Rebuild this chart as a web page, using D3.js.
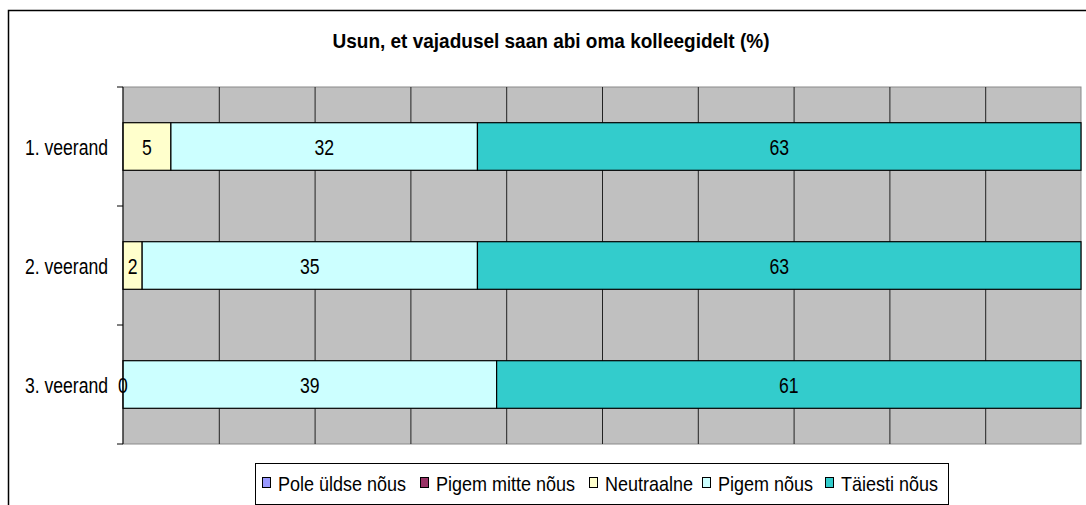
<!DOCTYPE html>
<html>
<head>
<meta charset="utf-8">
<script src="https://cdn.jsdelivr.net/npm/d3@7"></script>
<style>
  body { margin: 0; background: #fff; }
  text { font-family: "Liberation Sans", Arial, sans-serif; fill: #000; }
</style>
</head>
<body>
<div id="chart"></div>
<script>
var categories = ["1. veerand", "2. veerand", "3. veerand"];
var seriesNames = ["Pole üldse nõus", "Pigem mitte nõus", "Neutraalne", "Pigem nõus", "Täiesti nõus"];
var seriesColors = ["#9999FF", "#993366", "#FFFFCC", "#CCFFFF", "#33CCCC"];
var poleUldse = [0, 0, 0];
var pigemMitte = [0, 0, 0];
var neutraalne = [5, 2, 0];
var pigemNous = [32, 35, 39];
var taiestiNous = [63, 63, 61];
// which series get a value label (zero series have no labels in the original)
var labelled = [false, false, true, true, true];
var xTicks = [0, 10, 20, 30, 40, 50, 60, 70, 80, 90, 100];

var W = 1086, H = 505;
var plot = { left: 123, top: 87, right: 1081, bottom: 444 };

// the original text is horizontally compressed, so squeeze glyphs
function squish(sel, k) {
  sel.each(function () {
    var t = d3.select(this);
    var tx = +t.attr("x") || 0, ty = +t.attr("y") || 0;
    t.attr("x", 0).attr("y", 0)
      .attr("transform", "translate(" + tx + "," + ty + ") scale(" + k + ",1)");
  });
}

var svg = d3.select("#chart").append("svg").attr("width", W).attr("height", H);

svg.append("rect").attr("width", W).attr("height", H).attr("fill", "white");
// outer chart border (runs off right / bottom)
svg.append("rect").attr("x", 8.5).attr("y", 10.5).attr("width", W).attr("height", H)
  .attr("fill", "none").attr("stroke", "#000").attr("stroke-width", 1.5);

svg.append("text")
  .attr("x", 551).attr("y", 48)
  .attr("text-anchor", "middle")
  .attr("textLength", 437).attr("lengthAdjust", "spacingAndGlyphs")
  .style("font-size", "21px").style("font-weight", "bold")
  .text("Usun, et vajadusel saan abi oma kolleegidelt (%)");

var x = d3.scaleLinear().domain([0, 100]).range([plot.left, plot.right]);
var y = d3.scaleBand().domain(categories).range([plot.top, plot.bottom])
  .paddingInner(0.6).paddingOuter(0.3);

// plot area
svg.append("rect")
  .attr("x", plot.left).attr("y", plot.top)
  .attr("width", plot.right - plot.left).attr("height", plot.bottom - plot.top)
  .attr("fill", "#C0C0C0").attr("stroke", "#8a8a8a");

// vertical gridlines
svg.append("g")
  .attr("transform", "translate(0," + plot.bottom + ")")
  .call(d3.axisBottom(x).tickValues(xTicks.slice(1, -1)).tickSize(-(plot.bottom - plot.top)).tickFormat(""))
  .call(function (g) {
    g.select(".domain").remove();
    g.selectAll(".tick line").attr("stroke", "#222");
  });

// stacked bars
var rows = categories.map(function (c, i) {
  var o = { cat: c };
  o[seriesNames[0]] = poleUldse[i];
  o[seriesNames[1]] = pigemMitte[i];
  o[seriesNames[2]] = neutraalne[i];
  o[seriesNames[3]] = pigemNous[i];
  o[seriesNames[4]] = taiestiNous[i];
  return o;
});
var stacked = d3.stack().keys(seriesNames)(rows);

svg.selectAll("g.layer").data(stacked).enter().append("g")
  .attr("class", "layer")
  .attr("fill", function (d, i) { return seriesColors[i]; })
  .selectAll("rect")
  .data(function (d) { return d.filter(function (p) { return p[1] - p[0] > 0; }); })
  .enter().append("rect")
  .attr("x", function (d) { return x(d[0]); })
  .attr("y", function (d) { return y(d.data.cat); })
  .attr("width", function (d) { return x(d[1]) - x(d[0]); })
  .attr("height", y.bandwidth())
  .attr("stroke", "#000").attr("stroke-width", 1.2);

// left axis line
svg.append("line")
  .attr("x1", plot.left).attr("x2", plot.left)
  .attr("y1", plot.top).attr("y2", plot.bottom)
  .attr("stroke", "#000");

// value labels (drawn after all bars so the "0" stays visible)
var labels = [];
stacked.forEach(function (s, i) {
  if (labelled[i]) s.forEach(function (p) { labels.push(p); });
});
svg.append("g").selectAll("text").data(labels).enter().append("text")
  .attr("x", function (d) { return (x(d[0]) + x(d[1])) / 2; })
  .attr("y", function (d) { return y(d.data.cat) + y.bandwidth() / 2 + 8; })
  .attr("text-anchor", "middle")
  .style("font-size", "22px")
  .text(function (d) { return d[1] - d[0]; })
  .call(squish, 0.8);

// boundary ticks between categories
var bounds = [plot.top].concat(categories.map(function (c) {
  return y(c) - y.step() * 0.3 + y.step();
}));
svg.selectAll("line.btick").data(bounds).enter().append("line")
  .attr("class", "btick")
  .attr("x1", plot.left - 6).attr("x2", plot.left)
  .attr("y1", function (d) { return d; }).attr("y2", function (d) { return d; })
  .attr("stroke", "#000");

// category labels
svg.append("g")
  .attr("transform", "translate(" + plot.left + ",0)")
  .call(d3.axisLeft(y).tickSize(0).tickPadding(15))
  .call(function (g) {
    g.select(".domain").remove();
    g.selectAll("text").attr("dy", null).attr("y", 8)
      .style("font-size", "22px").attr("font-family", null)
      .call(squish, 0.8);
  });

// legend
var legend = svg.append("g");
legend.append("rect")
  .attr("x", 255.5).attr("y", 463.5).attr("width", 693).attr("height", 41)
  .attr("fill", "white").attr("stroke", "#000");
var lx = [262, 420, 589, 702, 825];
var item = legend.selectAll("g.item").data(seriesNames).enter().append("g")
  .attr("class", "item")
  .attr("transform", function (d, i) { return "translate(" + lx[i] + ",0)"; });
item.append("rect")
  .attr("x", 0.5).attr("y", 477.5).attr("width", 8).attr("height", 10)
  .attr("fill", function (d, i) { return seriesColors[i]; })
  .attr("stroke", "#000");
item.append("text")
  .attr("x", 16).attr("y", 491)
  .style("font-size", "20px")
  .text(function (d) { return d; })
  .call(squish, 0.9);
</script>
</body>
</html>
